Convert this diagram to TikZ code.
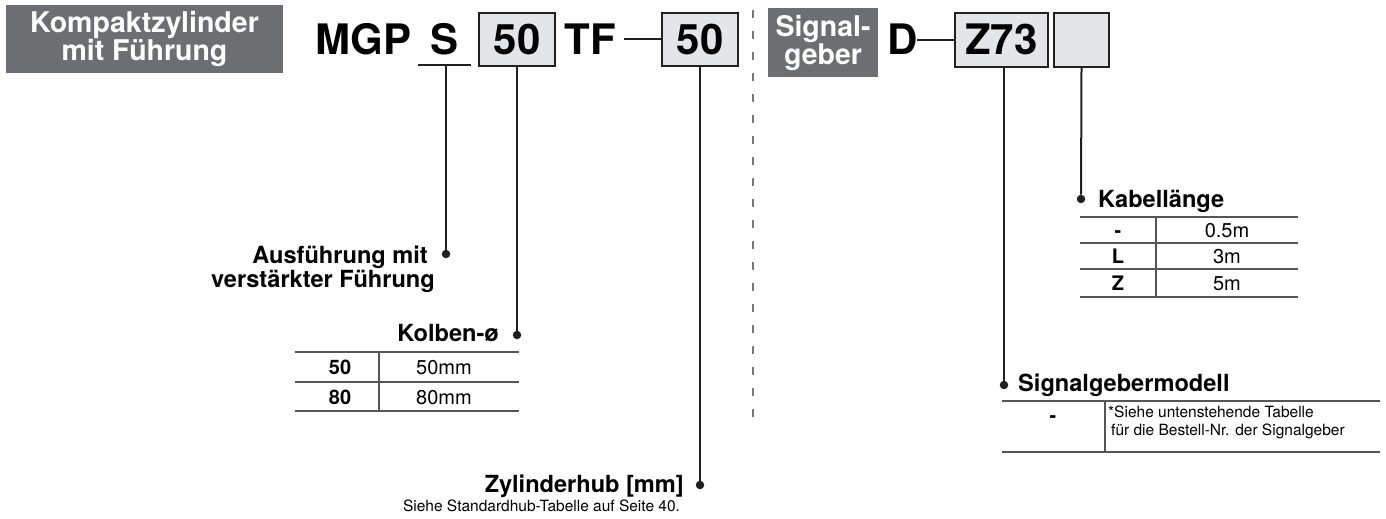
\documentclass[tikz,border=0pt]{standalone}
\usepackage{fontspec}
\setmainfont{TeX Gyre Heros}
\definecolor{smcgray}{RGB}{109,110,113}
\definecolor{smclight}{RGB}{228,229,230}
\definecolor{smcline}{RGB}{35,31,32}
\definecolor{smctab}{RGB}{85,85,85}
\definecolor{smcsep}{RGB}{120,120,120}
\newcommand{\bigfont}{\fontsize{42}{42}\selectfont\bfseries}
\newcommand{\labfont}{\fontsize{23.6}{24}\selectfont\bfseries}
\newcommand{\tabfont}{\fontsize{20}{22}\selectfont}
\newcommand{\notefont}{\fontsize{15.5}{18}\selectfont}

\begin{document}
\begin{tikzpicture}[x=1pt,y=-1pt,
    conn/.style={smcline,line width=2pt},
    dot/.style={circle,fill=smcline,inner sep=0pt,minimum size=8.5pt},
    codebox/.style={draw=smcline,line width=2pt,fill=smclight,inner sep=0pt,
      minimum width=76pt,minimum height=53pt,text height=30pt,text depth=0pt,font=\bigfont},
    hdrbox/.style={fill=smcgray,text=white,inner sep=0pt,align=center,
      font=\fontsize{28.5}{28}\selectfont\bfseries},
    code/.style={font=\bigfont,inner sep=0pt,anchor=base},
    lab/.style={font=\labfont,inner sep=0pt},
    tab/.style={smctab,line width=1.4pt},
    cell/.style={font=\tabfont,inner sep=0pt,anchor=base},
    bcell/.style={cell,font=\tabfont\bfseries},
    note/.style={font=\notefont,inner sep=0pt},
  ]
  \useasboundingbox (0,0) rectangle (1386,519);

  % Cylinder order code
  \node[hdrbox,minimum width=277pt,minimum height=68pt] (kzf) at (144.5,39) {Kompaktzylinder\\mit Führung};
  \node[code] (mgp) at (363.5,55) {MGP};
  \node[code,minimum width=53pt,text depth=10pt] (guide) at (444.5,55) {S};
  \draw[conn] (guide.south west) -- (guide.south east);
  \node[codebox] (bore) at (517,39.5) {50};
  \node[code] (tf) at (590.5,55) {TF};
  \node[codebox] (stroke) at (700,39.5) {50};
  \draw[conn] (stroke.west) -- ++(-37,0);

  % Separator
  \draw[smcsep,line width=1.5pt,dash pattern=on 8pt off 13pt] (753,10) -- (753,423);

  % Switch order code
  \node[hdrbox,minimum width=110pt,minimum height=69pt] (sig) at (823,42.5) {Signal-\\geber};
  \node[code] (dpre) at (902.5,55) {D};
  \node[codebox,minimum width=93pt,minimum height=54pt] (model) at (1001.5,40) {Z73};
  \node[codebox,minimum width=55pt,minimum height=54pt] (cable) at (1081.5,40) {};
  \draw[conn] (model.west) -- ++(-37,0);

  % Guide type
  \node[dot] (guidedot) at (446,254) {};
  \node[lab,anchor=base east] (guidelab) at (428,263) {Ausführung mit};
  \node[lab,anchor=base east] at (435,287) {verstärkter Führung};
  \draw[conn] (guide.south -| guidedot) -- (guidedot);

  % Bore size
  \node[dot] (boredot) at (517,335) {};
  \node[lab,anchor=base east] (borelab) at (499,341.5) {Kolben-ø};
  \draw[conn] (bore.south) -- (boredot);
  \foreach \y in {352,382,411}
    \draw[tab] (295,\y) -- (519,\y);
  \draw[tab] (379,352) -- (379,411);
  \foreach \y/\k in {374.5/50,404/80} {
    \node[bcell] at (340,\y) {\k};
    \node[cell] at (444,\y) {\k mm};
  }

  % Stroke
  \node[dot] (strokedot) at (700,485) {};
  \node[lab,anchor=base east] (strokelab) at (684,492) {Zylinderhub [mm]};
  \node[note,anchor=base] at (541.5,511) {Siehe Standardhub-Tabelle auf Seite 40.};
  \draw[conn] (stroke.south) -- (strokedot);

  % Lead wire length
  \node[dot] (cabledot) at (1081,199) {};
  \node[lab,anchor=base west] (cablelab) at (1098,207) {Kabellänge};
  \draw[conn] (cable.south) -- (cabledot);
  \foreach \y in {217,243,269,297}
    \draw[tab] (1080,\y) -- (1298,\y);
  \draw[tab] (1156,217) -- (1156,297);
  \foreach \y/\k/\l in {237.5/-/0.5m,263.5/L/3m,290.5/Z/5m} {
    \node[bcell] at (1118,\y) {\k};
    \node[cell] at (1227,\y) {\l};
  }

  % Switch model
  \node[dot] (modeldot) at (1004,385) {};
  \node[lab,anchor=base west] (modellab) at (1018,391) {Signalgebermodell};
  \draw[conn] (model.south -| modeldot) -- (modeldot);
  \foreach \y in {401,452}
    \draw[tab] (1002,\y) -- (1380,\y);
  \draw[tab] (1105,401) -- (1105,452);
  \node[bcell] at (1053,422) {-};
  \node[note,anchor=base west] at (1108,417) {*Siehe untenstehende Tabelle};
  \node[note,anchor=base west] at (1111,435.5) {für die Bestell-Nr. der Signalgeber};
\end{tikzpicture}
\end{document}
